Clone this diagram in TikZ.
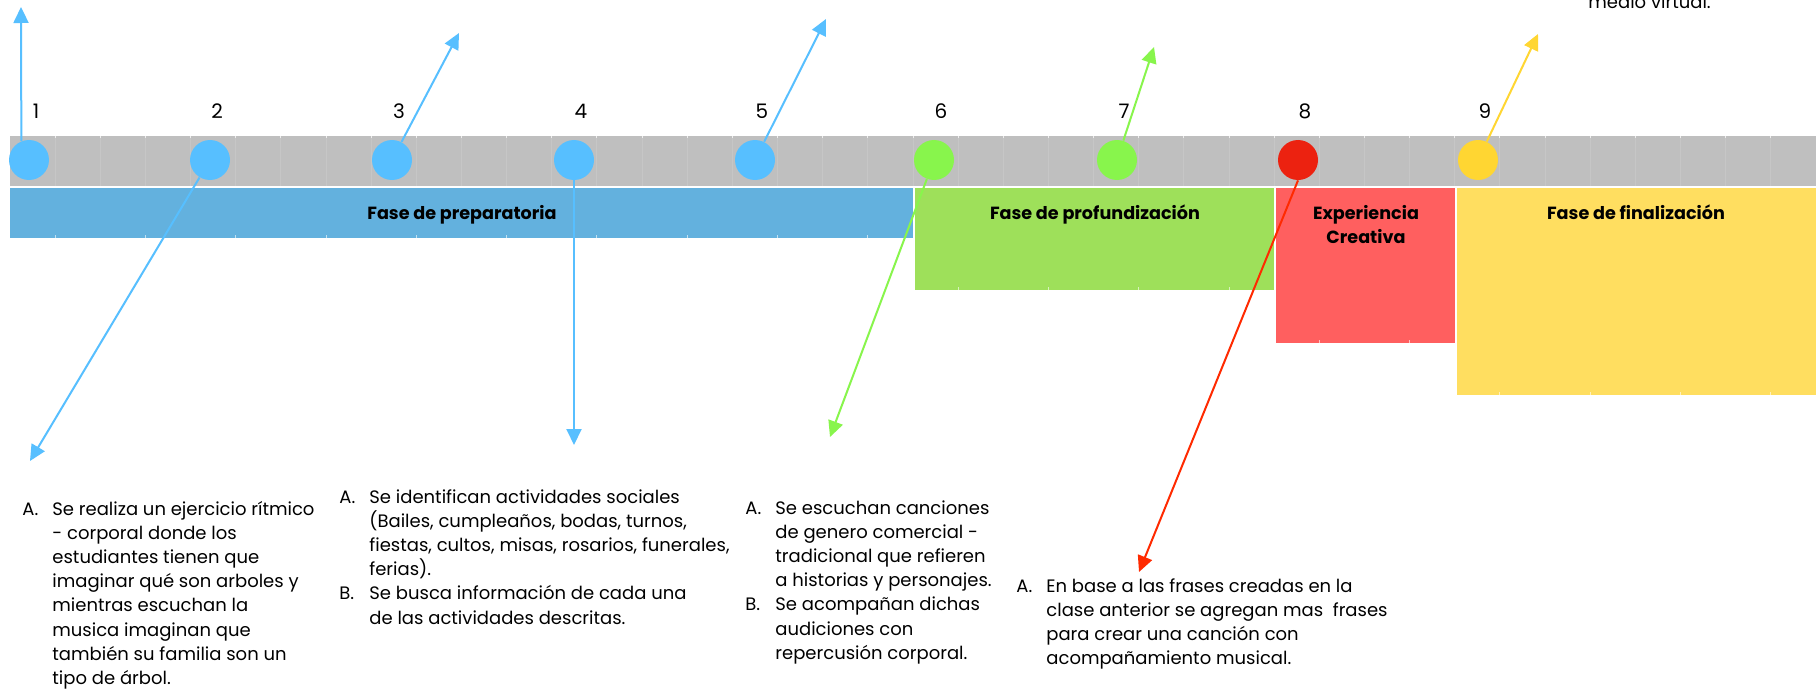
\documentclass[tikz,border=0pt]{standalone}
\usepackage{fontspec}
\setmainfont{Poppins}
\usepackage{tikz}
\usetikzlibrary{arrows.meta,calc}

\definecolor{barGray}{HTML}{BFBFBF}
\definecolor{dotBlue}{HTML}{57BFFF}
\definecolor{dotGreen}{HTML}{88F54C}
\definecolor{dotRed}{HTML}{EC2210}
\definecolor{dotYellow}{HTML}{FFD632}
\definecolor{lineRed}{HTML}{FF2A00}
\definecolor{fillBlue}{HTML}{63B1DE}
\definecolor{fillGreen}{HTML}{9EE05A}
\definecolor{fillRed}{HTML}{FF5F5F}
\definecolor{fillYellow}{HTML}{FFDE60}

\tikzset{
  hito/.style={circle, inner sep=0pt, minimum size=20pt},
  flecha/.style={line width=1pt, -{Triangle[length=8pt,width=7.5pt]}},
  fase/.style={font=\fontsize{8.8}{12}\selectfont\bfseries, align=center, anchor=base, inner sep=0pt},
  numero/.style={font=\fontsize{10}{12}\selectfont, anchor=base, inner sep=0pt},
  notas/.style={font=\fontsize{9}{12.1}\selectfont, anchor=base west, inner sep=0pt},
}

\begin{document}
\begin{tikzpicture}[x=0.5pt,y=-0.5pt]
    \useasboundingbox (0,0) rectangle (1820,690);
    \fill[white] (0,0) rectangle (1820,690);
    \clip (0,0) rectangle (1820,690);
    \def\cw{45.15}
    % Draw the timeline bar and the phase cells
    \fill[barGray] (10,136) rectangle (1816,186);
    \fill[fillBlue] (10,188) rectangle (913,238);
    \fill[fillGreen] (915,188) rectangle (1274,290);
    \fill[fillRed] (1276,188) rectangle (1455,343);
    \fill[fillYellow] (1457,188) rectangle (1816,395);
    % Draw table grid
    \foreach \k in {1,...,39} {
      \draw[white, opacity=.12, line width=.5pt] ({10+\cw*\k},136) -- ({10+\cw*\k},186);
      \draw[white, opacity=.7, line width=.5pt] ({10+\cw*\k},136) -- ({10+\cw*\k},138);
    }
    \foreach \k/\b in {1/238,3/238,5/238,7/238,9/238,11/238,13/238,15/238,17/238,19/238,
                       21/290,23/290,25/290,27/290,29/343,31/343,33/395,35/395,37/395,39/395} {
      \draw[white, opacity=.6, line width=.5pt] ({10+\cw*\k},\b-3) -- ({10+\cw*\k},\b);
    }
    % Phase labels
    \node[fase] (fprep) at (462,219) {Fase de preparatoria};
    \node[fase] (fprof) at (1095,219) {Fase de profundización};
    \node[fase] (fexp) at (1366,243) {Experiencia\\Creativa};
    \node[fase] (ffin) at (1636,219) {Fase de finalización};
    % Milestones and numbers
    \foreach \i/\x/\c in {1/29/dotBlue,2/210/dotBlue,3/392/dotBlue,4/574/dotBlue,5/755/dotBlue,
                          6/934/dotGreen,7/1117/dotGreen,8/1298/dotRed,9/1478/dotYellow} {
      \node[hito, fill=\c] (c\i) at (\x,160) {};
      \node[numero] (n\i) at (\x+7,119) {\i};
    }
    % Free ends of the connectors
    \coordinate (e1) at (21,7);
    \coordinate (e2) at (30,461);
    \coordinate (e3) at (459,33);
    \coordinate (e4) at (574,445);
    \coordinate (e5) at (826,19);
    \coordinate (e6) at (830,437);
    \coordinate (e7) at (1154,47);
    \coordinate (e8) at (1139,572);
    \coordinate (e9) at (1538,34);
    % Draw connectors
    \draw[flecha, dotBlue] (c1.112) -- (e1);
    \draw[flecha, dotBlue] (c2) -- (e2);
    \draw[flecha, dotBlue] (c3) -- (e3);
    \draw[flecha, dotBlue] (c4.south) -- (e4);
    \draw[flecha, dotBlue] (c5) -- (e5);
    \draw[flecha, dotGreen] (c6) -- (e6);
    \draw[flecha, dotGreen] (c7) -- (e7);
    \draw[flecha, lineRed] (c8.south) -- (e8);
    \draw[flecha, dotYellow] (c9) -- (e9);
    % Activity notes
    \node[notas] (t9) at (1588,9) {medio virtual.};
    \node[notas] (t2) at (22,515) {\begin{tabular}[t]{@{}p{15pt}@{}l@{}}
      A. & Se realiza un ejercicio rítmico\\
         & - corporal donde los\\
         & estudiantes tienen que\\
         & imaginar qué son arboles y\\
         & mientras escuchan la\\
         & musica imaginan que\\
         & también su familia son un\\
         & tipo de árbol.
    \end{tabular}};
    \node[notas] (t4) at (339,503) {\begin{tabular}[t]{@{}p{15pt}@{}l@{}}
      A. & Se identifican actividades sociales\\
         & (Bailes, cumpleaños, bodas, turnos,\\
         & fiestas, cultos, misas, rosarios, funerales,\\
         & ferias).\\
      B. & Se busca información de cada una\\
         & de las actividades descritas.
    \end{tabular}};
    \node[notas] (t6) at (745,514) {\begin{tabular}[t]{@{}p{15pt}@{}l@{}}
      A. & Se escuchan canciones\\
         & de genero comercial -\\
         & tradicional que refieren\\
         & a historias y personajes.\\
      B. & Se acompañan dichas\\
         & audiciones con\\
         & repercusión corporal.
    \end{tabular}};
    \node[notas] (t8) at (1016,592) {\begin{tabular}[t]{@{}p{15pt}@{}l@{}}
      A. & En base a las frases creadas en la\\
         & clase anterior se agregan mas\ \ frases\\
         & para crear una canción con\\
         & acompañamiento musical.
    \end{tabular}};
\end{tikzpicture}
\end{document}
